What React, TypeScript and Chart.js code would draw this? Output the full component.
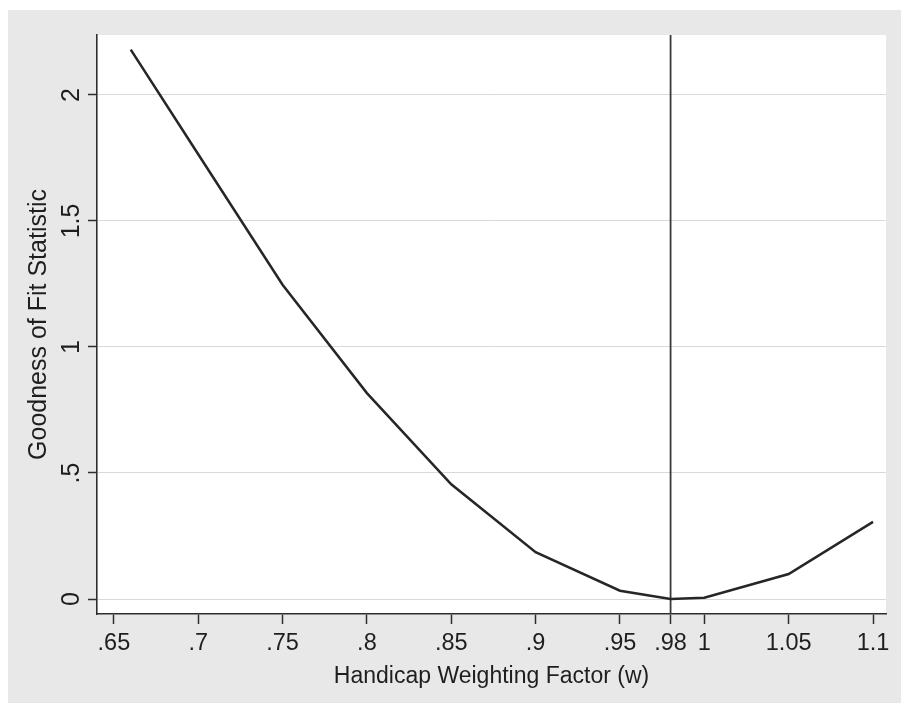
import React, { useEffect, useRef } from "react";
import { Chart, registerables } from "chart.js";

Chart.register(...registerables);

const wValues = [0.66, 0.7, 0.75, 0.8, 0.85, 0.9, 0.95, 0.98, 1.0, 1.05, 1.1];
const fitValues = [2.18, 1.765, 1.247, 0.817, 0.455, 0.186, 0.033, 0.0, 0.005, 0.099, 0.306];
const xTickValues = [0.65, 0.7, 0.75, 0.8, 0.85, 0.9, 0.95, 0.98, 1.0, 1.05, 1.1];
const xTickLabels = [".65", ".7", ".75", ".8", ".85", ".9", ".95", ".98", "1", "1.05", "1.1"];
const yTickValues = [0, 0.5, 1, 1.5, 2];
const yTickLabels = ["0", ".5", "1", "1.5", "2"];
const refLineX = 0.98;
const xMin = 0.64;
const xMax = 1.1077;
const yMin = -0.0595;
const yMax = 2.238;

const FONT = "'Liberation Sans', Arial, Helvetica, sans-serif";
const TEXT = "#1e1e1e";

const bgPlugin = {
  id: "stataBg",
  beforeDraw(chart: any) {
    const { ctx, chartArea, width, height } = chart;
    ctx.save();
    ctx.fillStyle = "#e8e8e8";
    ctx.fillRect(0, 0, width, height);
    ctx.fillStyle = "#ffffff";
    ctx.fillRect(chartArea.left, chartArea.top, chartArea.right - chartArea.left, chartArea.bottom - chartArea.top);
    ctx.restore();
  },
};

export default function App() {
  const ref = useRef<HTMLCanvasElement | null>(null);

  useEffect(() => {
    if (!ref.current) return;
    const chart = new Chart(ref.current, {
      type: "line",
      data: {
        datasets: [
          {
            data: wValues.map((w, i) => ({ x: w, y: fitValues[i] })),
            borderColor: "#262626",
            borderWidth: 2.5,
            pointRadius: 0,
            tension: 0,
          },
          {
            data: [
              { x: refLineX, y: yMin },
              { x: refLineX, y: yMax },
            ],
            borderColor: "#3a3a3a",
            borderWidth: 1.8,
            pointRadius: 0,
          },
        ],
      },
      options: {
        responsive: false,
        animation: false,
        events: [],
        layout: { padding: { left: 0, top: 25, right: 15, bottom: 0 } },
        plugins: {
          legend: { display: false },
          tooltip: { enabled: false },
        },
        scales: {
          x: {
            type: "linear",
            min: xMin,
            max: xMax,
            afterBuildTicks: (s: any) => {
              s.ticks = xTickValues.map((v) => ({ value: v }));
            },
            afterFit: (s: any) => {
              s.height = 89;
            },
            ticks: {
              callback: (v: any) => {
                const i = xTickValues.findIndex((t) => Math.abs(t - Number(v)) < 1e-9);
                return i >= 0 ? xTickLabels[i] : "";
              },
              font: { family: FONT, size: 23.5 },
              color: TEXT,
              padding: 5.5,
              maxRotation: 0,
              minRotation: 0,
              autoSkip: false,
            },
            grid: {
              drawOnChartArea: false,
              drawTicks: true,
              tickLength: 10,
              tickColor: "#2e2e2e",
              tickWidth: 1.5,
            },
            border: { display: true, color: "#2e2e2e", width: 1.6 },
            title: {
              display: true,
              text: "Handicap Weighting Factor (w)",
              font: { family: FONT, size: 23 },
              color: TEXT,
              padding: { top: 0, bottom: 12.5 },
            },
          },
          y: {
            type: "linear",
            min: yMin,
            max: yMax,
            afterBuildTicks: (s: any) => {
              s.ticks = yTickValues.map((v) => ({ value: v }));
            },
            afterFit: (s: any) => {
              s.width = 89;
            },
            ticks: {
              callback: (v: any) => {
                const i = yTickValues.findIndex((t) => Math.abs(t - Number(v)) < 1e-9);
                return i >= 0 ? yTickLabels[i] : "";
              },
              font: { family: FONT, size: 25 },
              color: TEXT,
              padding: -1.2,
              minRotation: 90,
              maxRotation: 90,
              crossAlign: "center",
              autoSkip: false,
            },
            grid: {
              drawOnChartArea: true,
              drawTicks: true,
              tickLength: 9,
              color: "#d9d9d9",
              lineWidth: 1,
              tickColor: "#2e2e2e",
              tickWidth: 1.5,
            },
            border: { display: true, color: "#2e2e2e", width: 1.6 },
            title: {
              display: true,
              text: "Goodness of Fit Statistic",
              font: { family: FONT, size: 25 },
              color: TEXT,
              padding: { top: 16, bottom: 0 },
            },
          },
        },
      },
      plugins: [bgPlugin],
    } as any);
    return () => chart.destroy();
  }, []);

  return (
    <div style={{ position: "fixed", left: 8, top: 10, width: 893, height: 693 }}>
      <canvas ref={ref} width={893} height={693} style={{ display: "block" }} />
    </div>
  );
}
